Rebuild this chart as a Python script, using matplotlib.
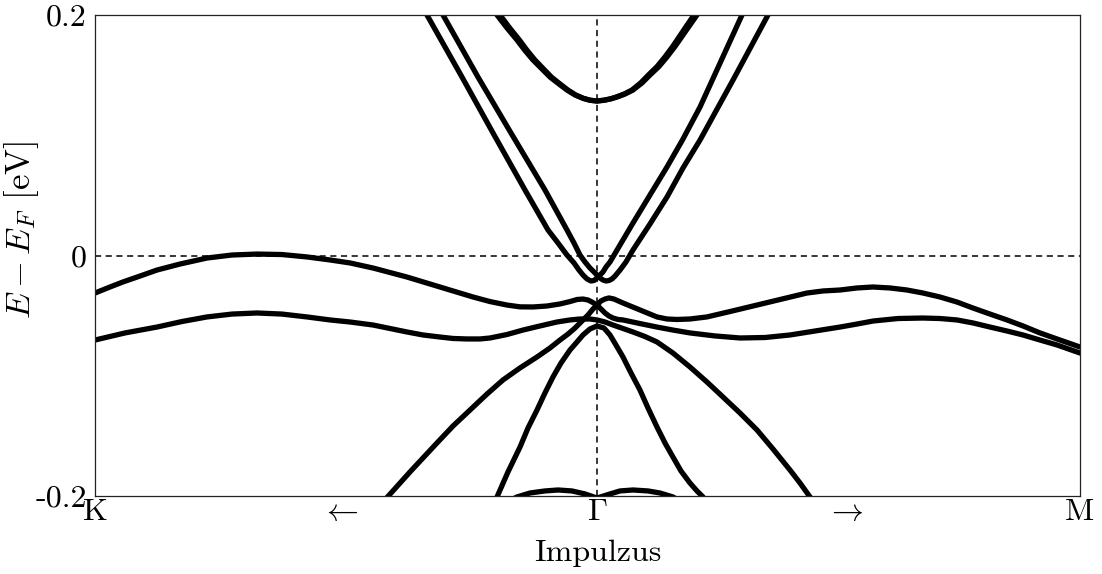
import matplotlib
matplotlib.use("Agg")
import matplotlib.pyplot as plt

plt.rcParams["font.family"] = "serif"
plt.rcParams["font.serif"] = ["cmr10"]
plt.rcParams["mathtext.fontset"] = "cm"
plt.rcParams["axes.unicode_minus"] = False

# --- band data: k along K -> Gamma -> M (Gamma at 0), energy in eV ---
k_K, k_G, k_M = -1.0393, 0.0, 1.0
tick_pos = [k_K, -0.532, k_G, 0.513, k_M]
tick_lab = ["K", r"$\leftarrow$", r"$\Gamma$", r"$\rightarrow$", "M"]

# upper conduction band (two nearly degenerate branches)
cb_top_a_k = [-0.2070, -0.1863, -0.1656, -0.1491, -0.1325, -0.1139, -0.0973, -0.0787,
              -0.0621, -0.0455, -0.0290, -0.0145, 0.0, 0.0145, 0.0290, 0.0414, 0.0580,
              0.0745, 0.0932, 0.1097, 0.1284, 0.1449, 0.1615, 0.1781, 0.1925, 0.2070]
cb_top_a_e = [0.2000, 0.1892, 0.1792, 0.1705, 0.1626, 0.1551, 0.1484, 0.1426,
              0.1376, 0.1335, 0.1307, 0.1291, 0.1285, 0.1291, 0.1303, 0.1318, 0.1343,
              0.1376, 0.1435, 0.1501, 0.1572, 0.1651, 0.1738, 0.1834, 0.1917, 0.2000]
cb_top_b_k = [-0.2008, -0.1807, -0.1606, -0.1446, -0.1285, -0.1105, -0.0944, -0.0763,
              -0.0602, -0.0441, -0.0281, -0.0141, 0.0, 0.0141, 0.0281, 0.0402, 0.0563,
              0.0723, 0.0904, 0.1064, 0.1245, 0.1406, 0.1567, 0.1728, 0.1867, 0.2008]
cb_top_b_e = cb_top_a_e

# Rashba-split conduction bands
cb1_k = [-0.3520, -0.2795, -0.2153, -0.1491, -0.1014, -0.0807, -0.0621, -0.0476,
         -0.0373, -0.0290, -0.0207, -0.0124, -0.0062, 0.0, 0.0062, 0.0124, 0.0186,
         0.0269, 0.0476, 0.0745, 0.1097, 0.1449, 0.1781, 0.2133, 0.3002]
cb1_e = [0.2000, 0.1484, 0.1019, 0.0545, 0.0212, 0.0104, 0.0004, -0.0062,
         -0.0121, -0.0162, -0.0195, -0.0212, -0.0208, -0.0187, -0.0162, -0.0137, -0.0096,
         -0.0054, 0.0087, 0.0270, 0.0503, 0.0736, 0.0969, 0.1235, 0.2000]
cb2_k = [-0.3188, -0.2464, -0.1781, -0.1077, -0.0621, -0.0476, -0.0352, -0.0248,
         -0.0145, -0.0062, 0.0, 0.0062, 0.0124, 0.0186, 0.0248, 0.0311, 0.0373,
         0.0476, 0.0600, 0.0745, 0.1097, 0.1449, 0.1781, 0.2133, 0.2816, 0.3540]
cb2_e = [0.2000, 0.1484, 0.1019, 0.0545, 0.0212, 0.0104, 0.0004, -0.0054,
         -0.0104, -0.0137, -0.0162, -0.0187, -0.0204, -0.0212, -0.0208, -0.0195, -0.0171,
         -0.0121, -0.0054, 0.0046, 0.0262, 0.0486, 0.0728, 0.0960, 0.1459, 0.2000]

# valence bands
vb_a_k = [-1.0393, -1.0083, -0.9814, -0.9462, -0.9110, -0.8634, -0.8075, -0.7557,
          -0.7039, -0.6522, -0.6004, -0.5528, -0.5114, -0.4638, -0.3934, -0.3251,
          -0.2567, -0.2215, -0.1863, -0.1594, -0.1325, -0.1035, -0.0766, -0.0559,
          -0.0414, -0.0290, -0.0186, -0.0104, 0.0, 0.0083, 0.0166, 0.0248, 0.0331,
          0.0435, 0.0538, 0.0890, 0.1242, 0.1573, 0.1925, 0.2443, 0.2961, 0.3478,
          0.3996, 0.4513, 0.5031, 0.5383, 0.5714, 0.6232, 0.6749, 0.7101, 0.7453,
          0.7785, 0.8137, 0.8489, 0.8820, 0.9172, 0.9524, 1.0]
vb_a_e = [-0.0312, -0.0262, -0.0220, -0.0171, -0.0121, -0.0071, -0.0021, 0.0004,
          0.0012, 0.0008, -0.0012, -0.0037, -0.0062, -0.0104, -0.0179, -0.0262,
          -0.0345, -0.0383, -0.0412, -0.0427, -0.0428, -0.0420, -0.0403, -0.0383,
          -0.0366, -0.0362, -0.0370, -0.0387, -0.0412, -0.0445, -0.0478, -0.0503, -0.0520,
          -0.0532, -0.0536, -0.0566, -0.0595, -0.0620, -0.0644, -0.0669, -0.0686, -0.0682,
          -0.0661, -0.0628, -0.0595, -0.0570, -0.0545, -0.0524, -0.0520, -0.0524, -0.0536,
          -0.0561, -0.0595, -0.0628, -0.0661, -0.0703, -0.0744, -0.0811]

vb_b_k = [-0.4431, -0.3872, -0.3313, -0.2981, -0.2629, -0.2277, -0.1946, -0.1594,
          -0.1242, -0.0973, -0.0766, -0.0600, -0.0455, -0.0311, -0.0186, -0.0083,
          0.0, 0.0083, 0.0166, 0.0248, 0.0352, 0.0538, 0.0890, 0.1242, 0.1449,
          0.1656, 0.1925, 0.2277, 0.2795, 0.3313, 0.3830, 0.4348, 0.4679, 0.5031,
          0.5383, 0.5714, 0.6066, 0.6418, 0.6749, 0.7101, 0.7453, 0.7785, 0.8137,
          0.8489, 0.8820, 0.9172, 0.9586, 1.0]
vb_b_e = [-0.2050, -0.1800, -0.1559, -0.1418, -0.1285, -0.1152, -0.1035, -0.0935,
          -0.0844, -0.0769, -0.0703, -0.0653, -0.0603, -0.0545, -0.0495, -0.0445,
          -0.0412, -0.0378, -0.0362, -0.0353, -0.0362, -0.0395, -0.0453, -0.0511, -0.0528,
          -0.0532, -0.0528, -0.0511, -0.0462, -0.0412, -0.0362, -0.0312, -0.0295, -0.0287,
          -0.0270, -0.0262, -0.0270, -0.0287, -0.0312, -0.0345, -0.0387, -0.0437, -0.0487,
          -0.0536, -0.0586, -0.0644, -0.0703, -0.0761]

vb_c_k = [-1.0393, -0.9772, -0.9110, -0.8592, -0.8075, -0.7557, -0.7039, -0.6522,
          -0.6004, -0.5528, -0.5114, -0.4638, -0.4286, -0.3934, -0.3602, -0.3251,
          -0.2981, -0.2692, -0.2422, -0.2215, -0.1863, -0.1532, -0.1180, -0.0828,
          -0.0559, -0.0352, -0.0145, 0.0, 0.0166, 0.0331, 0.0538, 0.0745, 0.0994,
          0.1242, 0.1573, 0.1925, 0.2277, 0.2609, 0.2961, 0.3313, 0.3644, 0.3996,
          0.4203, 0.4410, 0.4513]
vb_c_e = [-0.0703, -0.0644, -0.0595, -0.0549, -0.0511, -0.0487, -0.0478, -0.0487,
          -0.0511, -0.0536, -0.0553, -0.0578, -0.0607, -0.0636, -0.0661, -0.0678,
          -0.0690, -0.0694, -0.0694, -0.0686, -0.0657, -0.0620, -0.0586, -0.0553,
          -0.0536, -0.0528, -0.0528, -0.0536, -0.0553, -0.0578, -0.0607, -0.0636, -0.0674,
          -0.0719, -0.0811, -0.0927, -0.1052, -0.1177, -0.1310, -0.1451, -0.1609, -0.1784,
          -0.1892, -0.2008, -0.2058]

vb_d_k = [-0.2153, -0.2070, -0.1843, -0.1594, -0.1429, -0.1242, -0.1077, -0.0911,
          -0.0745, -0.0559, -0.0414, -0.0290, -0.0145, 0.0, 0.0145, 0.0269, 0.0393,
          0.0538, 0.0704, 0.0890, 0.1056, 0.1242, 0.1408, 0.1573, 0.1739, 0.1925,
          0.2070, 0.2195, 0.2257]
vb_d_e = [-0.2075, -0.2008, -0.1800, -0.1593, -0.1435, -0.1285, -0.1143, -0.1010,
          -0.0894, -0.0786, -0.0719, -0.0661, -0.0611, -0.0586, -0.0603, -0.0661, -0.0744,
          -0.0844, -0.0977, -0.1119, -0.1268, -0.1426, -0.1559, -0.1676, -0.1792, -0.1892,
          -0.1958, -0.2008, -0.2058]

# deep bands peeking in at the bottom edge
arc_l_k = [-0.1905, -0.1656, -0.1387, -0.1077, -0.0807, -0.0518, -0.0248, 0.0]
arc_l_e = [-0.2058, -0.2008, -0.1975, -0.1958, -0.1950, -0.1958, -0.1983, -0.2017]
arc_r_k = [0.0, 0.0269, 0.0476, 0.0745, 0.1056, 0.1304, 0.1573, 0.1781]
arc_r_e = [-0.2017, -0.1983, -0.1958, -0.1950, -0.1958, -0.1975, -0.2008, -0.2058]

bands = [
    (cb_top_a_k, cb_top_a_e), (cb_top_b_k, cb_top_b_e),
    (cb1_k, cb1_e), (cb2_k, cb2_e),
    (vb_a_k, vb_a_e), (vb_b_k, vb_b_e), (vb_c_k, vb_c_e), (vb_d_k, vb_d_e),
    (arc_l_k, arc_l_e), (arc_r_k, arc_r_e),
]

fig = plt.figure(figsize=(11.02, 5.74), dpi=100)
ax = fig.add_axes([95 / 1102, 1 - 496 / 574, 985 / 1102, 481 / 574])

ax.axhline(0, color="k", lw=1.1, ls=(0, (4, 3)), zorder=1)
ax.axvline(k_G, color="k", lw=1.1, ls=(0, (4, 3)), zorder=1)

for kk, ee in bands:
    ax.plot(kk, ee, color="k", lw=3.8, solid_joinstyle="round",
            solid_capstyle="round", zorder=2)

ax.set_xlim(k_K, k_M)
ax.set_ylim(-0.2, 0.2)
ax.set_xticks(tick_pos)
ax.set_xticklabels(tick_lab)
ax.set_yticks([-0.2, 0, 0.2])
ax.set_yticklabels(["-0.2", "0", "0.2"])
ax.tick_params(length=0, labelsize=23)
ax.tick_params(axis="x", pad=1.5)
ax.tick_params(axis="y", pad=6)
for s in ax.spines.values():
    s.set_linewidth(0.9)
    s.set_color("#222222")

ax.set_xlabel("Impulzus", fontsize=23)
ax.xaxis.set_label_coords(0.51, -0.09)
ax.set_ylabel(r"$E - E_F$ [eV]", fontsize=25)
ax.yaxis.set_label_coords(-0.055, 0.553)

fig.savefig("out.png", dpi=100)
